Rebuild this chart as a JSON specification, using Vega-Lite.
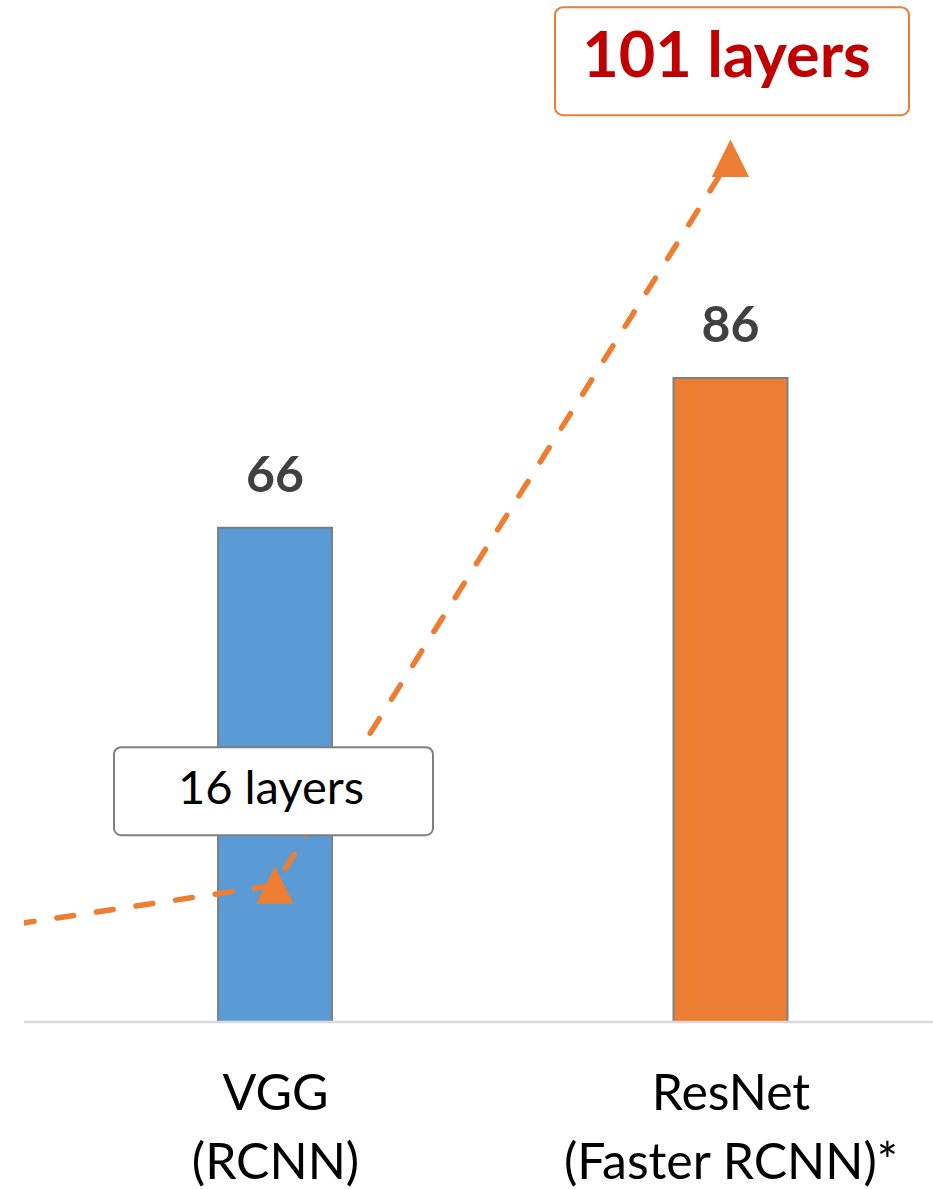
{
  "$schema": "https://vega.github.io/schema/vega-lite/v6.json",
  "width": 909,
  "height": 1022,
  "autosize": {"type": "none"},
  "padding": {"left": 24, "top": 0, "right": 0, "bottom": 167},
  "background": "white",
  "config": {"view": {"stroke": null}, "font": "Lato", "text": {"font": "Lato"}},
  "datasets": {
    "detection": [
      {"model": "VGG (RCNN)", "mAP": 66},
      {"model": "ResNet (Faster RCNN)*", "mAP": 86}
    ],
    "depth": [
      {"model": "AlexNet (RCNN)", "layers": 8},
      {"model": "VGG (RCNN)", "layers": 16},
      {"model": "ResNet (Faster RCNN)*", "layers": 101}
    ]
  },
  "layer": [
    {
      "data": {"name": "detection"},
      "encoding": {
        "x": {
          "field": "model",
          "type": "nominal",
          "scale": {"type": "point", "domain": ["AlexNet (RCNN)", "VGG (RCNN)", "ResNet (Faster RCNN)*"], "range": [-204.5, 706.5], "padding": 0},
          "axis": {
            "title": null,
            "values": ["VGG (RCNN)", "ResNet (Faster RCNN)*"],
            "domain": false,
            "ticks": false,
            "tickSize": 0,
            "grid": false,
            "labelAngle": 0,
            "labelPadding": 47,
            "labelFont": "Lato",
            "labelFontSize": 50,
            "labelColor": "#000000",
            "labelLineHeight": 69,
            "labelLimit": 0,
            "labelOverlap": false,
            "labelExpr": "[slice(datum.label, 0, indexof(datum.label, ' (')), slice(datum.label, indexof(datum.label, ' (') + 1)]"
          }
        },
        "y": {"field": "mAP", "type": "quantitative", "scale": {"domain": [0, 136.5], "nice": false}, "axis": null}
      },
      "layer": [
        {
          "mark": {"type": "bar", "size": 114, "stroke": "#7f7f7f", "strokeWidth": 2},
          "encoding": {
            "color": {"field": "model", "type": "nominal", "scale": {"domain": ["VGG (RCNN)", "ResNet (Faster RCNN)*"], "range": ["#5b9bd5", "#ed7d31"]}, "legend": null}
          }
        },
        {
          "mark": {"type": "text", "dy": -36, "baseline": "alphabetic", "fontSize": 50, "fontWeight": "bold", "color": "#404040"},
          "encoding": {"text": {"field": "mAP", "type": "quantitative"}}
        }
      ]
    },
    {
      "data": {"values": [{}]},
      "mark": {"type": "rule", "color": "#d9d9d9", "strokeWidth": 2.5},
      "encoding": {"y": {"datum": 0, "type": "quantitative", "scale": {"domain": [0, 1]}, "axis": null}}
    },
    {
      "data": {"name": "depth"},
      "encoding": {
        "x": {
          "field": "model",
          "type": "nominal",
          "scale": {"type": "point", "domain": ["AlexNet (RCNN)", "VGG (RCNN)", "ResNet (Faster RCNN)*"], "range": [-204.5, 706.5], "padding": 0},
          "axis": {
            "title": null,
            "values": ["VGG (RCNN)", "ResNet (Faster RCNN)*"],
            "domain": false,
            "ticks": false,
            "tickSize": 0,
            "grid": false,
            "labelAngle": 0,
            "labelPadding": 47,
            "labelFont": "Lato",
            "labelFontSize": 50,
            "labelColor": "#000000",
            "labelLineHeight": 69,
            "labelLimit": 0,
            "labelOverlap": false,
            "labelExpr": "[slice(datum.label, 0, indexof(datum.label, ' (')), slice(datum.label, indexof(datum.label, ' (') + 1)]"
          }
        },
        "y": {"field": "layers", "type": "quantitative", "scale": {"domain": [0, 119.5], "nice": false}, "axis": null}
      },
      "layer": [
        {
          "mark": {"type": "line", "color": "#ed7d31", "strokeWidth": 5.5, "strokeDash": [17, 23], "strokeCap": "round", "clip": true},
          "encoding": {"order": {"field": "layers", "type": "quantitative"}}
        },
        {
          "transform": [{"filter": "datum.layers > 8"}],
          "mark": {"type": "point", "shape": "M0,-1L1,1L-1,1Z", "filled": true, "size": 1400, "color": "#ed7d31", "opacity": 1}
        },
        {
          "transform": [{"filter": "datum.model === 'VGG (RCNN)'"}],
          "mark": {"type": "rect", "fill": "white", "stroke": "#7f7f7f", "strokeWidth": 2, "cornerRadius": 7, "xOffset": -161, "x2Offset": 158, "yOffset": -138, "y2Offset": -50},
          "encoding": {"x2": {"field": "model"}, "y2": {"field": "layers"}}
        },
        {
          "transform": [{"filter": "datum.model === 'VGG (RCNN)'"}],
          "mark": {"type": "text", "text": {"expr": "datum.layers + ' layers'"}, "fontSize": 47, "color": "#000000", "dx": -4, "dy": -81, "baseline": "alphabetic"}
        },
        {
          "transform": [{"filter": "datum.model === 'ResNet (Faster RCNN)*'"}],
          "mark": {"type": "rect", "fill": "white", "stroke": "#ed7d31", "strokeWidth": 2, "cornerRadius": 8, "xOffset": -175.5, "x2Offset": 178.5, "yOffset": -151, "y2Offset": -43},
          "encoding": {"x2": {"field": "model"}, "y2": {"field": "layers"}}
        },
        {
          "transform": [{"filter": "datum.model === 'ResNet (Faster RCNN)*'"}],
          "mark": {"type": "text", "text": {"expr": "datum.layers + ' layers'"}, "fontSize": 63, "fontWeight": "bold", "color": "#c00000", "dx": -4, "dy": -81, "baseline": "alphabetic"}
        }
      ]
    }
  ],
  "resolve": {"scale": {"y": "independent"}, "axis": {"y": "independent"}}
}
